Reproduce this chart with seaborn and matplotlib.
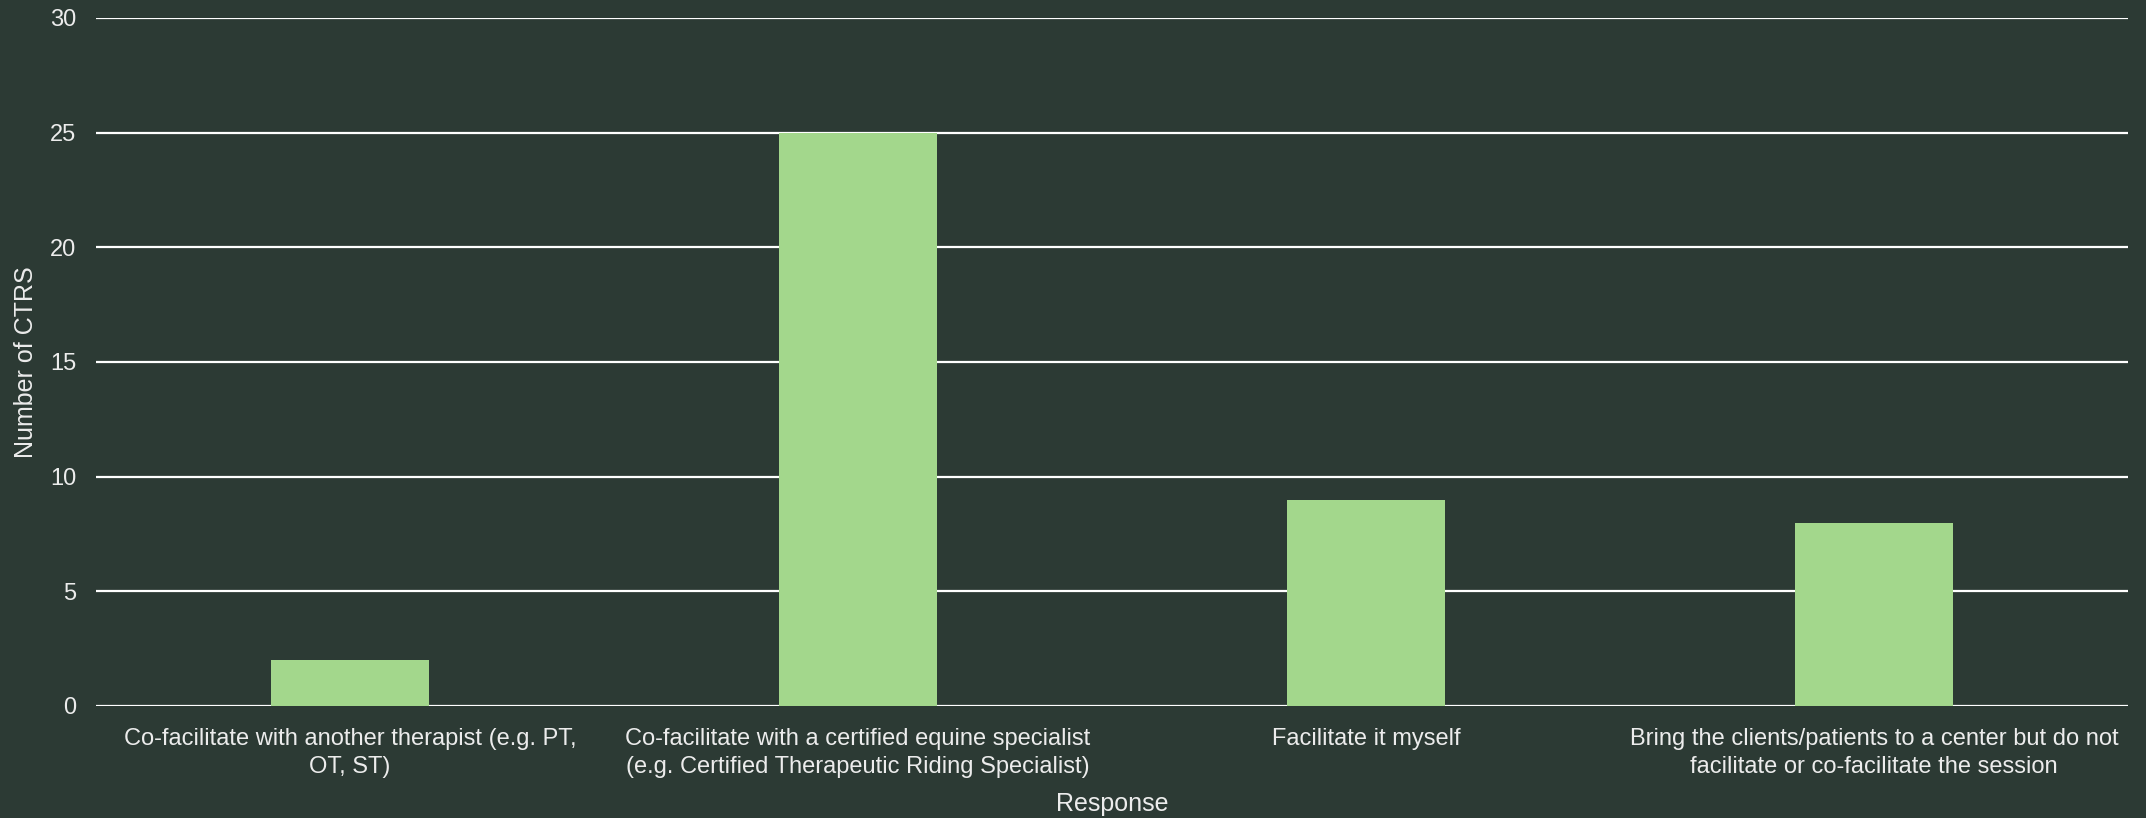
import matplotlib
matplotlib.use('Agg')
import matplotlib.pyplot as plt
import seaborn as sns
import pandas as pd

responses = [
    'Co-facilitate with another therapist (e.g. PT,\nOT, ST)',
    'Co-facilitate with a certified equine specialist\n(e.g. Certified Therapeutic Riding Specialist)',
    'Facilitate it myself',
    'Bring the clients/patients to a center but do not\nfacilitate or co-facilitate the session',
]
counts = [2, 25, 9, 8]
y_ticks = [0, 5, 10, 15, 20, 25, 30]

bg = '#2c3a34'
bar_color = '#a3d78c'
text_color = '#ececec'

sns.set_theme(style='white')
plt.rcParams['font.family'] = ['Liberation Sans', 'DejaVu Sans']

df = pd.DataFrame({'Response': responses, 'Number of CTRS': counts})

fig = plt.figure(figsize=(21.46, 8.18), dpi=100, facecolor=bg)
ax = fig.add_axes([96 / 2146, 1 - 706 / 818, (2128 - 96) / 2146, (706 - 18) / 818])
ax.set_facecolor(bg)

sns.barplot(data=df, x='Response', y='Number of CTRS', color=bar_color,
            width=0.31, saturation=1, linewidth=0, ax=ax, zorder=3)

ax.set_ylim(0, 30)
ax.set_yticks(y_ticks)
for t in y_ticks:
    ax.axhline(t, color='white', lw=1.6, zorder=2)

for s in ax.spines.values():
    s.set_visible(False)
ax.tick_params(axis='both', length=0, colors=text_color, labelsize=17)
ax.tick_params(axis='x', pad=16)
ax.tick_params(axis='y', pad=14)
for lbl in ax.get_xticklabels():
    lbl.set_linespacing(1.35)
ax.set_xlabel('Response', color=text_color, fontsize=18, labelpad=10)
ax.set_ylabel('Number of CTRS', color=text_color, fontsize=18, labelpad=9)

fig.savefig('out.png', dpi=100, facecolor=bg)
